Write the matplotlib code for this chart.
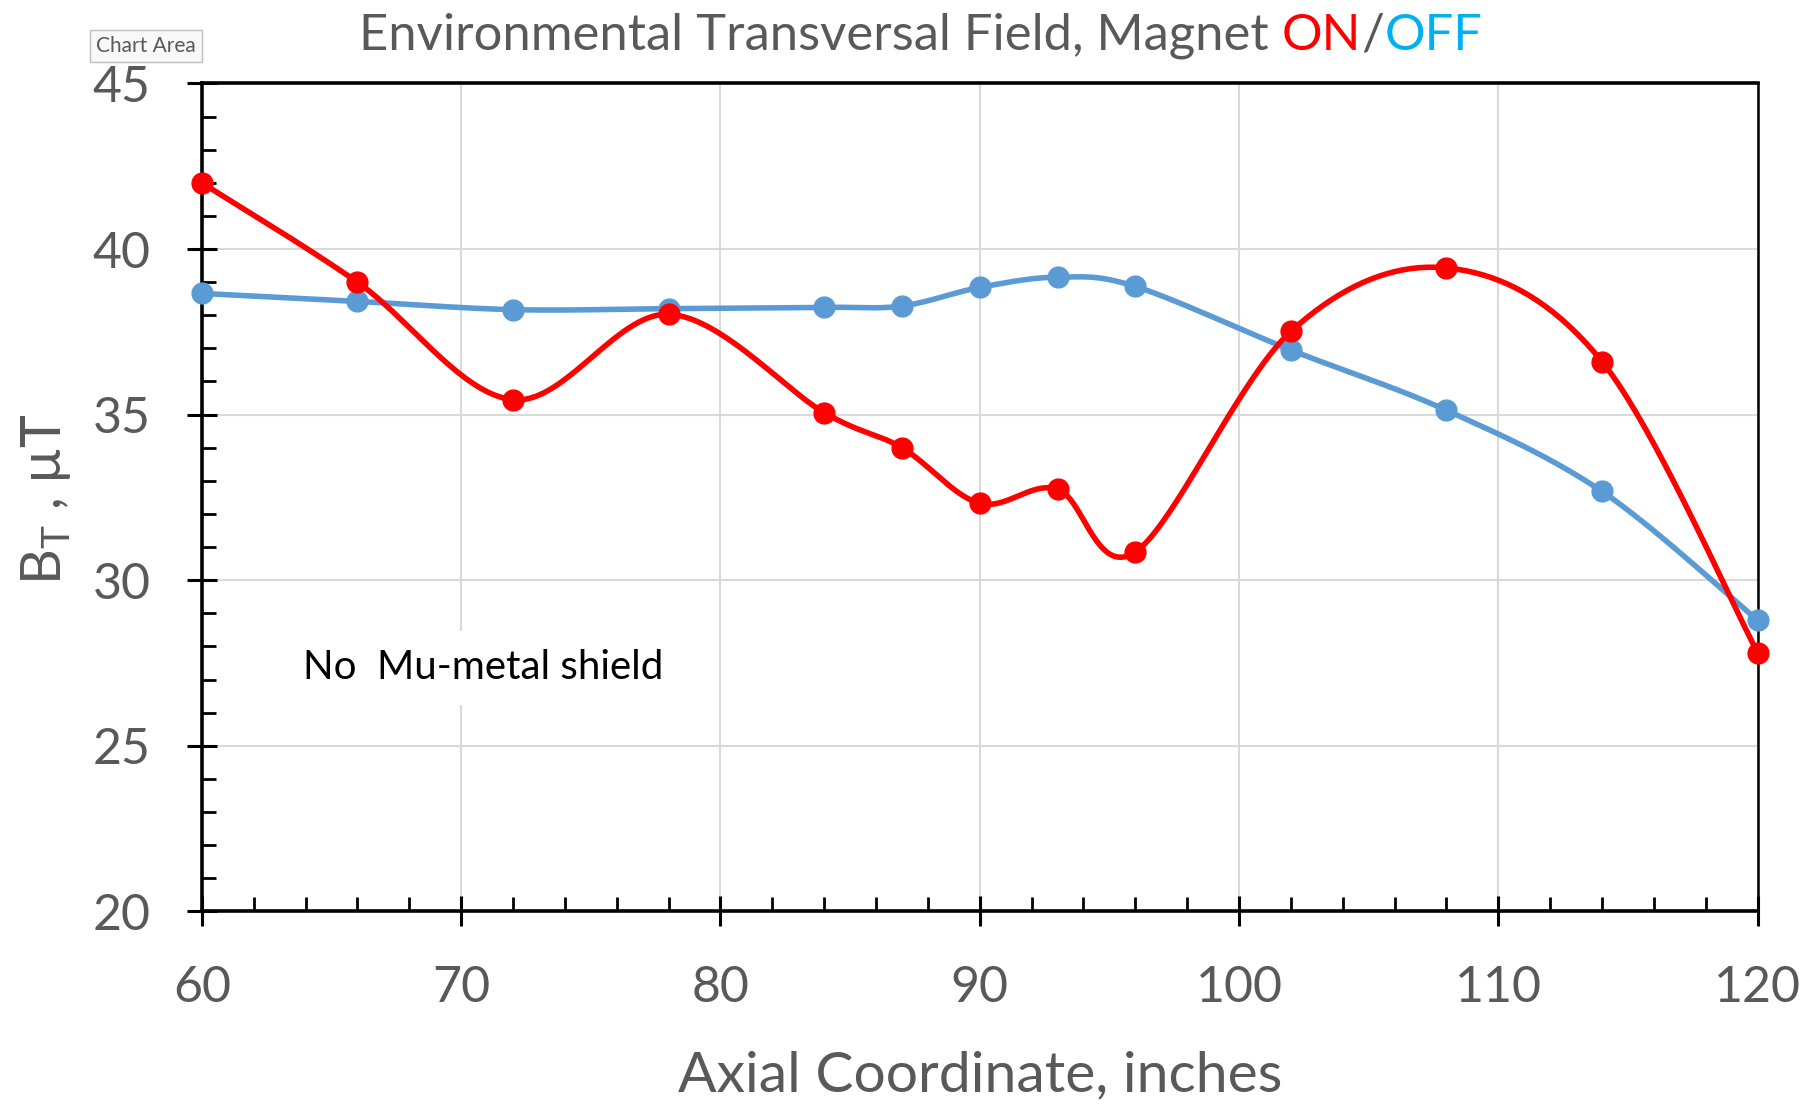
import numpy as np
import matplotlib
matplotlib.use('Agg')
import matplotlib.pyplot as plt
from matplotlib.ticker import MultipleLocator

# Axial coordinate (inches) and transversal field (uT)
x_in = [60, 66, 72, 78, 84, 87, 90, 93, 96, 102, 108, 114, 120]
b_on = [42.0, 39.0, 35.45, 38.03, 35.06, 34.0, 32.32, 32.75, 30.85, 37.51, 39.43, 36.6, 27.81]
b_off = [38.66, 38.42, 38.17, 38.2, 38.24, 38.28, 38.84, 39.15, 38.87, 36.95, 35.13, 32.68, 28.79]

title_parts = ['Environmental Transversal Field, Magnet ', 'ON', '/', 'OFF']
title_colors = ['#595959', '#FF0000', '#595959', '#00B0F0']

GRAY = '#595959'
RED = '#FF0000'
BLUE = '#5B9BD5'

plt.rcParams['font.family'] = ['Lato', 'DejaVu Sans']
plt.rcParams['mathtext.fontset'] = 'custom'
plt.rcParams['mathtext.rm'] = 'Lato'


def smooth(xs, ys, n=40):
    # Excel-like smoothed line: Catmull-Rom through the points as cubic Bezier segments
    p = np.column_stack([xs, ys]).astype(float)
    p_ext = np.vstack([p[0], p, p[-1]])
    t = np.linspace(0, 1, n)[:, None]
    out = []
    for i in range(len(p) - 1):
        p0, p1, p2, p3 = p_ext[i], p_ext[i + 1], p_ext[i + 2], p_ext[i + 3]
        c1 = p1 + (p2 - p0) / 6
        c2 = p2 - (p3 - p1) / 6
        seg = ((1 - t) ** 3) * p1 + 3 * ((1 - t) ** 2) * t * c1 + 3 * (1 - t) * t ** 2 * c2 + t ** 3 * p2
        out.append(seg if i == 0 else seg[1:])
    out = np.vstack(out)
    return out[:, 0], out[:, 1]


fig = plt.figure(figsize=(18.18, 11.10), dpi=100)
ax = fig.add_axes([0.111, 0.179, 0.8558, 0.7458])

sx, sy = smooth(x_in, b_off)
ax.plot(sx, sy, color=BLUE, lw=4.0, zorder=3, solid_capstyle='round')
ax.plot(x_in, b_off, 'o', color=BLUE, ms=15, zorder=4, clip_on=False)
sx, sy = smooth(x_in, b_on)
ax.plot(sx, sy, color=RED, lw=4.0, zorder=5, solid_capstyle='round')
ax.plot(x_in, b_on, 'o', color=RED, ms=15, zorder=6, clip_on=False)

ax.set_xlim(60, 120)
ax.set_ylim(20, 45)
ax.xaxis.set_major_locator(MultipleLocator(10))
ax.xaxis.set_minor_locator(MultipleLocator(2))
ax.yaxis.set_major_locator(MultipleLocator(5))
ax.yaxis.set_minor_locator(MultipleLocator(1))
ax.grid(True, which='major', color='#D9D9D9', lw=1.5, zorder=0)

for side in ['left', 'top', 'bottom']:
    ax.spines[side].set_linewidth(2.6)
ax.spines['right'].set_linewidth(1.8)
ax.tick_params(which='major', direction='inout', length=22, width=2.2,
               labelsize=36, labelcolor=GRAY, color='black')
ax.tick_params(which='minor', direction='in', length=10, width=2.0, color='black')
ax.tick_params(axis='x', which='major', pad=28)
ax.tick_params(axis='y', which='major', pad=26)

ax.set_xlabel('Axial Coordinate, inches', fontsize=41, color=GRAY, labelpad=28)
fig.text(0.0255, 0.55, r'B$_\mathrm{T}$ , µT', rotation=90, fontsize=40,
         color=GRAY, ha='center', va='center')

ax.text(63.9, 27.35, 'No  Mu-metal shield', fontsize=29, color='black',
        va='center', ha='left', zorder=2,
        bbox=dict(boxstyle='square,pad=0.45', fc='white', ec='none'))

# multi-coloured title, pieces placed one after another
fig.canvas.draw()
renderer = fig.canvas.get_renderer()
xpos = 0.1976
for part, col in zip(title_parts, title_colors):
    t = fig.text(xpos, 0.968, part, fontsize=36.5, color=col, ha='left', va='center')
    bb = t.get_window_extent(renderer)
    xpos += bb.width / fig.bbox.width

fig.text(0.0803, 0.9586, 'Chart Area', fontsize=15, color='#595959', ha='center', va='center',
         bbox=dict(boxstyle='square,pad=0.3', fc='#F8F8F8', ec='#BFBFBF', lw=1))

fig.savefig('out.png', dpi=100)
